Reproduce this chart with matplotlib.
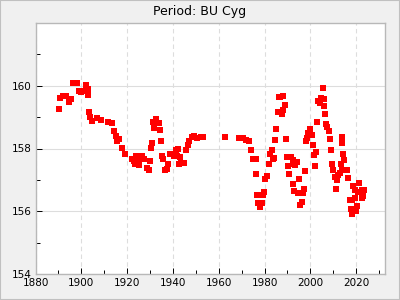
import matplotlib
matplotlib.use("Agg")
import matplotlib.pyplot as plt
from matplotlib.ticker import MultipleLocator, FixedLocator
from matplotlib.patches import Rectangle

# O-C style period data
years = [1890.4, 1890.8, 1891.9, 1893.2, 1894.8, 1895.6, 1896.2, 1898.0, 1898.9, 1899.7,
         1900.6, 1901.8, 1902.8, 1903.1, 1903.5, 1903.9, 1904.8, 1906.6, 1908.7, 1911.8,
         1913.5, 1914.4, 1915.3, 1915.7, 1916.5, 1917.9, 1919.2, 1922.3, 1923.1, 1924.0,
         1923.6, 1924.9, 1925.3, 1926.6, 1927.5, 1928.8, 1929.7, 1930.1, 1930.6, 1931.0,
         1931.4, 1932.8, 1931.9, 1934.1, 1934.5, 1934.9, 1935.4, 1935.8, 1936.7, 1937.6,
         1938.0, 1938.9, 1939.5, 1940.4, 1941.4, 1942.2, 1941.9, 1942.5, 1943.0, 1943.4,
         1944.8, 1945.7, 1946.5, 1947.2, 1948.2, 1949.3, 1950.7, 1952.3, 1953.0, 1962.9,
         1968.9, 1970.7, 1971.9, 1973.1, 1974.2, 1975.1, 1976.2, 1976.4, 1976.9, 1977.3,
         1978.2, 1979.0, 1979.5, 1979.9, 1980.4, 1981.2, 1982.1, 1982.4, 1983.1, 1983.6,
         1984.3, 1984.7, 1985.2, 1985.9, 1986.5, 1986.8, 1988.2, 1989.1, 1986.0, 1988.2,
         1987.8, 1989.5, 1990.0, 1991.4, 1990.8, 1990.4, 1992.3, 1992.6, 1993.4, 1994.3,
         1992.6, 1994.9, 1993.0, 1994.8, 1995.9, 1996.9, 1997.4, 1996.4, 1995.6, 1997.8,
         2002.2, 2001.7, 2002.6, 2001.0, 1998.3, 1998.7, 1999.1, 1999.9, 2000.6, 2003.1,
         2003.5, 2004.2, 2004.7, 2005.4, 2005.8, 2006.1, 2006.5, 2007.0, 2007.4, 2008.0,
         2008.7, 2009.2, 2009.6, 2010.1, 2010.7, 2011.1, 2011.5, 2012.0, 2013.0, 2014.0,
         2013.5, 2014.8, 2014.4, 2014.0, 2014.0, 2016.2, 2016.6, 2018.8, 2019.5, 2021.4,
         2021.0, 2022.6, 2023.4, 2022.9, 2022.5, 2020.5, 2020.0, 2018.1, 2017.6, 2017.3,
         2018.3, 2019.5]
periods = [159.27, 159.62, 159.66, 159.69, 159.48, 159.59, 160.10, 160.10, 159.85, 159.79,
           159.85, 160.01, 159.90, 159.72, 159.17, 159.02, 158.89, 158.98, 158.92, 158.86,
           158.80, 158.55, 158.41, 158.23, 158.29, 158.03, 157.84, 157.65, 157.59, 157.77,
           157.52, 157.62, 157.46, 157.77, 157.68, 157.39, 157.33, 157.61, 158.03, 158.18,
           158.86, 158.95, 158.66, 158.81, 158.60, 158.25, 157.77, 157.68, 157.30, 157.36,
           157.49, 157.84, 157.81, 157.77, 157.96, 158.00, 157.77, 157.49, 157.73, 157.54,
           157.55, 157.96, 158.12, 158.23, 158.38, 158.39, 158.33, 158.38, 158.37, 158.38,
           158.35, 158.35, 158.26, 158.24, 157.96, 157.65, 157.68, 157.20, 156.53, 156.25,
           156.14, 156.27, 156.53, 156.62, 157.04, 157.12, 157.52, 157.84, 157.96, 157.65,
           157.71, 158.28, 158.63, 159.18, 159.64, 159.64, 159.66, 159.39, 159.18, 159.24,
           159.11, 158.31, 157.73, 157.73, 157.20, 157.43, 157.62, 157.52, 157.47, 157.57,
           156.88, 157.04, 156.64, 156.57, 156.57, 156.57, 156.72, 156.30, 156.19, 157.28,
           157.43, 157.80, 157.89, 158.12, 158.23, 158.35, 158.49, 158.63, 158.42, 158.86,
           159.50, 159.45, 159.62, 159.94, 159.59, 159.37, 159.11, 158.79, 158.68, 158.55,
           158.31, 157.96, 157.49, 157.31, 157.09, 156.72, 156.99, 157.17, 157.22, 157.31,
           157.49, 157.62, 157.84, 158.19, 158.37, 157.31, 157.07, 156.81, 156.69, 156.91,
           156.62, 156.69, 156.69, 156.48, 156.41, 156.17, 156.00, 155.90, 156.06, 156.37,
           156.37, 156.43]

title = "Period: BU Cyg"
y_ticks = [154, 156, 158, 160]

fig = plt.figure(figsize=(4, 3), dpi=100, facecolor="#f0f0f0")
fig.patches.append(Rectangle((0, 0), 1, 1, transform=fig.transFigure, fill=False,
                             edgecolor="#c0c0c0", linewidth=1.5))
ax = fig.add_axes([0.089, 0.087, 0.8735, 0.836])
ax.set_facecolor("white")

ax.plot(years, periods, "s", color="red", markersize=4, markeredgewidth=0)

ax.set_xlim(1880, 2032.6)
ax.set_ylim(154, 162)
ax.xaxis.set_major_locator(MultipleLocator(20))
ax.xaxis.set_minor_locator(MultipleLocator(10))
ax.yaxis.set_major_locator(FixedLocator(y_ticks))
ax.yaxis.set_minor_locator(MultipleLocator(1))

ax.grid(axis="x", which="major", color="#dddddd", linestyle=(0, (4, 3)), linewidth=0.8)
ax.grid(axis="y", which="major", color="#dddddd", linestyle="-", linewidth=0.8)
ax.set_axisbelow(True)

ax.tick_params(which="both", direction="in", labelsize=7.5, top=False, right=False,
               color="black", width=0.7)
ax.tick_params(which="major", length=4)
ax.tick_params(which="minor", length=3)
ax.tick_params(axis="x", pad=3)
ax.tick_params(axis="y", pad=3)

for s in ax.spines.values():
    s.set_color("#b8b8b8")
    s.set_linewidth(1)

fig.text(0.5, 0.963, title, ha="center", va="center", fontsize=9)

fig.savefig("out.png", dpi=100, facecolor=fig.get_facecolor())
